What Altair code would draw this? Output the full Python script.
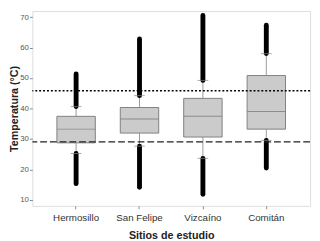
import altair as alt
import pandas as pd

sites = ["Hermosillo", "San Felipe", "Vizcaíno", "Comitán"]
q1 = [28.7, 31.9, 30.6, 33.2]
median = [33.2, 36.5, 37.4, 39.0]
q3 = [37.4, 40.3, 43.3, 50.8]
whisk_lo = [25.2, 27.6, 23.6, 29.5]
whisk_hi = [40.6, 44.2, 49.2, 58.0]
out_min = [15.3, 14.1, 11.8, 20.4]
out_max = [51.3, 62.8, 70.5, 67.3]
ref_dotted = 45.8
ref_dashed = 29.0
y_ticks = [10, 20, 30, 40, 50, 60, 70]

df = pd.DataFrame({
    "site": sites, "q1": q1, "median": median, "q3": q3,
    "wlo": whisk_lo, "whi": whisk_hi, "omin": out_min, "omax": out_max,
})

xenc = alt.X("site:N", sort=sites, title="Sitios de estudio",
             scale=alt.Scale(paddingInner=0.394, paddingOuter=0.387),
             axis=alt.Axis(labelAngle=0, labelFontSize=10, labelColor="#333",
                           labelFont="Liberation Sans", tickSize=3, tickColor="#888",
                           domain=False, labelPadding=4, titlePadding=7,
                           titleFontSize=11, titleFont="Liberation Sans",
                           titleFontWeight="bold", titleColor="#222"))
yscale = alt.Scale(domain=[8, 72], nice=False, zero=False)
yaxis = alt.Axis(values=y_ticks, labelFontSize=8, labelColor="#555",
                 labelFont="Liberation Sans", tickSize=3, tickColor="#888", domain=False,
                 grid=False, labelPadding=1, titlePadding=0, titleFontSize=11,
                 labelOverlap=False, labelFlush=False,
                 titleFont="Liberation Sans", titleFontWeight="bold", titleColor="#222")


def Y(field):
    return alt.Y(field, scale=yscale, axis=yaxis, title="Temperatura (°C)")


base = alt.Chart(df)

whisk_up = base.mark_rule(color="#999", strokeWidth=1).encode(
    x=xenc, y=Y("q3:Q"), y2="whi:Q")
whisk_dn = base.mark_rule(color="#999", strokeWidth=1).encode(
    x=xenc, y=Y("wlo:Q"), y2="q1:Q")
out_up = base.mark_rule(color="black", strokeWidth=5, strokeCap="round").encode(
    x=xenc, y=Y("whi:Q"), y2="omax:Q")
out_dn = base.mark_rule(color="black", strokeWidth=5, strokeCap="round").encode(
    x=xenc, y=Y("omin:Q"), y2="wlo:Q")
cap_up = base.mark_tick(color="#888", size=11, thickness=1, orient="horizontal").encode(
    x=xenc, y=Y("whi:Q"))
cap_dn = base.mark_tick(color="#888", size=11, thickness=1, orient="horizontal").encode(
    x=xenc, y=Y("wlo:Q"))
box = base.mark_bar(color="#cbcbcb", stroke="#808080", strokeWidth=1).encode(
    x=xenc, y=Y("q1:Q"), y2="q3:Q")
med = base.mark_tick(color="#707070", size=39, thickness=1, orient="horizontal").encode(
    x=xenc, y=Y("median:Q"))

refs = pd.DataFrame({"v": [ref_dotted]})
refs2 = pd.DataFrame({"v": [ref_dashed]})
dotted = alt.Chart(refs).mark_rule(color="black", strokeWidth=1.6, strokeDash=[2, 2]).encode(
    y=Y("v:Q"))
dashed = alt.Chart(refs2).mark_rule(color="#222", strokeWidth=1.4, strokeDash=[7, 3]).encode(
    y=Y("v:Q"))

chart = alt.layer(whisk_up, whisk_dn, out_up, out_dn, cap_up, cap_dn, box, med, dotted, dashed).properties(
    width=285, height=200,
    autosize=alt.AutoSizeParams(type="none"),
    padding={"left": 25, "top": 0, "right": 2, "bottom": 33},
).configure_view(stroke="#999", strokeWidth=1).configure(background="white")

chart.save("out.html", embed_options={"renderer": "svg", "actions": False})
